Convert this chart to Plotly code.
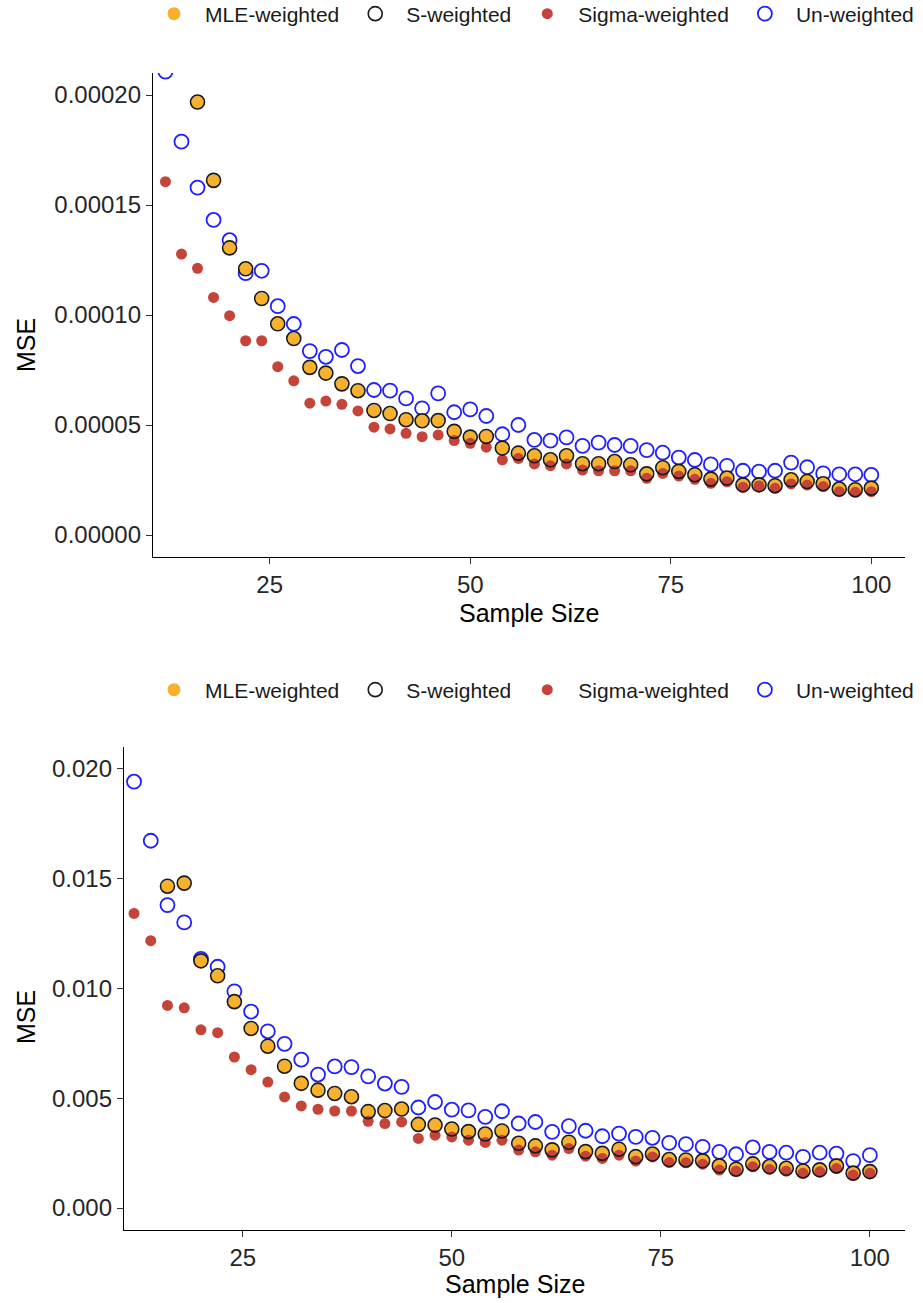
import plotly.graph_objects as go

# ---------------- data ----------------
sample_size = list(range(12, 101, 2))

# Panel 1 (MSE, top)
top_mle = [None, None, 1.967e-4, 1.610e-4, 1.303e-4, 1.212e-4, 1.073e-4, 9.62e-5, 8.91e-5, 7.60e-5,
           7.35e-5, 6.85e-5, 6.55e-5, 5.65e-5, 5.50e-5, 5.23e-5, 5.18e-5, 5.18e-5, 4.70e-5, 4.44e-5,
           4.47e-5, 3.94e-5, 3.71e-5, 3.59e-5, 3.41e-5, 3.59e-5, 3.23e-5, 3.23e-5, 3.33e-5, 3.18e-5,
           2.77e-5, 3.05e-5, 2.88e-5, 2.73e-5, 2.53e-5, 2.58e-5, 2.27e-5, 2.27e-5, 2.23e-5, 2.50e-5,
           2.42e-5, 2.32e-5, 2.08e-5, 2.05e-5, 2.12e-5]
top_s = [None, None, 1.968e-4, 1.612e-4, 1.305e-4, 1.210e-4, 1.075e-4, 9.60e-5, 8.93e-5, 7.62e-5,
         7.36e-5, 6.87e-5, 6.56e-5, 5.66e-5, 5.52e-5, 5.24e-5, 5.19e-5, 5.20e-5, 4.71e-5, 4.45e-5,
         4.48e-5, 3.95e-5, 3.72e-5, 3.60e-5, 3.42e-5, 3.60e-5, 3.24e-5, 3.24e-5, 3.34e-5, 3.19e-5,
         2.78e-5, 3.06e-5, 2.89e-5, 2.74e-5, 2.54e-5, 2.59e-5, 2.28e-5, 2.28e-5, 2.24e-5, 2.51e-5,
         2.43e-5, 2.33e-5, 2.09e-5, 2.06e-5, 2.13e-5]
top_sigma = [1.606e-4, 1.277e-4, 1.212e-4, 1.080e-4, 9.97e-5, 8.83e-5, 8.83e-5, 7.65e-5, 7.01e-5, 5.99e-5,
             6.09e-5, 5.94e-5, 5.64e-5, 4.90e-5, 4.82e-5, 4.62e-5, 4.47e-5, 4.55e-5, 4.29e-5, 4.17e-5,
             3.99e-5, 3.41e-5, 3.48e-5, 3.23e-5, 3.15e-5, 3.23e-5, 2.95e-5, 2.92e-5, 2.92e-5, 2.92e-5,
             2.58e-5, 2.80e-5, 2.68e-5, 2.53e-5, 2.35e-5, 2.42e-5, 2.17e-5, 2.23e-5, 2.12e-5, 2.32e-5,
             2.27e-5, 2.20e-5, 1.97e-5, 1.94e-5, 1.97e-5]
top_un = [2.106e-4, 1.788e-4, 1.579e-4, 1.432e-4, 1.340e-4, 1.190e-4, 1.201e-4, 1.040e-4, 9.59e-5, 8.36e-5,
          8.10e-5, 8.41e-5, 7.68e-5, 6.59e-5, 6.56e-5, 6.21e-5, 5.76e-5, 6.44e-5, 5.58e-5, 5.71e-5,
          5.41e-5, 4.58e-5, 5.00e-5, 4.32e-5, 4.29e-5, 4.44e-5, 4.05e-5, 4.20e-5, 4.09e-5, 4.05e-5,
          3.86e-5, 3.74e-5, 3.52e-5, 3.41e-5, 3.21e-5, 3.14e-5, 2.92e-5, 2.88e-5, 2.92e-5, 3.29e-5,
          3.08e-5, 2.80e-5, 2.76e-5, 2.76e-5, 2.73e-5]

# Panel 2 (MSE, bottom)
bot_mle = [None, None, 0.01465, 0.01479, 0.01124, 0.01056, 0.00938, 0.00817, 0.00736, 0.00645,
           0.00567, 0.00536, 0.00521, 0.00506, 0.00438, 0.00443, 0.00450, 0.00380, 0.00377, 0.00359,
           0.00347, 0.00336, 0.00350, 0.00294, 0.00282, 0.00264, 0.00299, 0.00256, 0.00248, 0.00267,
           0.00233, 0.00245, 0.00220, 0.00218, 0.00214, 0.00191, 0.00176, 0.00200, 0.00188, 0.00180,
           0.00168, 0.00173, 0.00191, 0.00158, 0.00165]
bot_s = [None, None, 0.01466, 0.01480, 0.01126, 0.01058, 0.00940, 0.00818, 0.00737, 0.00646,
         0.00568, 0.00537, 0.00522, 0.00507, 0.00439, 0.00444, 0.00451, 0.00381, 0.00378, 0.00360,
         0.00348, 0.00337, 0.00351, 0.00295, 0.00283, 0.00265, 0.00300, 0.00257, 0.00249, 0.00268,
         0.00234, 0.00246, 0.00221, 0.00219, 0.00215, 0.00192, 0.00177, 0.00201, 0.00189, 0.00181,
         0.00169, 0.00174, 0.00192, 0.00159, 0.00166]
bot_sigma = [0.01342, 0.01218, 0.00923, 0.00912, 0.00812, 0.00799, 0.00688, 0.00630, 0.00574, 0.00506,
             0.00465, 0.00450, 0.00442, 0.00442, 0.00395, 0.00385, 0.00392, 0.00317, 0.00332, 0.00324,
             0.00309, 0.00299, 0.00309, 0.00264, 0.00256, 0.00241, 0.00271, 0.00236, 0.00226, 0.00241,
             0.00214, 0.00233, 0.00207, 0.00206, 0.00200, 0.00173, 0.00168, 0.00188, 0.00176, 0.00168,
             0.00158, 0.00165, 0.00180, 0.00150, 0.00158]
bot_un = [0.01942, 0.01673, 0.01380, 0.01301, 0.01135, 0.01099, 0.00987, 0.00895, 0.00805, 0.00748,
          0.00676, 0.00608, 0.00645, 0.00642, 0.00600, 0.00567, 0.00552, 0.00458, 0.00483, 0.00448,
          0.00445, 0.00415, 0.00441, 0.00385, 0.00392, 0.00347, 0.00373, 0.00352, 0.00327, 0.00339,
          0.00324, 0.00320, 0.00297, 0.00291, 0.00279, 0.00256, 0.00245, 0.00276, 0.00256, 0.00252,
          0.00233, 0.00252, 0.00248, 0.00214, 0.00241]

top_ticks = [0.0, 0.00005, 0.00010, 0.00015, 0.00020]
top_tick_text = ["0.00000", "0.00005", "0.00010", "0.00015", "0.00020"]
bot_ticks = [0.0, 0.005, 0.010, 0.015, 0.020]
bot_tick_text = ["0.000", "0.005", "0.010", "0.015", "0.020"]
x_ticks = [25, 50, 75, 100]

# ---------------- styles ----------------
W, H = 923, 1303
FONT = "Liberation Sans, Arial, Helvetica, sans-serif"
ORANGE = "#F8B12C"
RED = "#C4443A"
BLUE = "#2020FF"
BLACK = "#1a1a1a"

series = [
    # (name, legend rank, marker style)
    ("Un-weighted", 4, dict(symbol="circle-open", size=14, color=BLUE, line=dict(color=BLUE, width=1.8))),
    ("MLE-weighted", 1, dict(symbol="circle", size=13, color=ORANGE, line=dict(width=0))),
    ("Sigma-weighted", 3, dict(symbol="circle", size=11, color=RED, line=dict(width=0))),
    ("S-weighted", 2, dict(symbol="circle-open", size=14, color=BLACK, line=dict(color=BLACK, width=1.6))),
]

fig = go.Figure()

panels = [
    ("x", "y", "legend", {"Un-weighted": top_un, "MLE-weighted": top_mle,
                          "Sigma-weighted": top_sigma, "S-weighted": top_s}),
    ("x2", "y2", "legend2", {"Un-weighted": bot_un, "MLE-weighted": bot_mle,
                             "Sigma-weighted": bot_sigma, "S-weighted": bot_s}),
]
for xa, ya, lg, data in panels:
    for name, rank, mk in series:
        fig.add_trace(go.Scatter(
            x=sample_size, y=data[name], mode="markers", name=name,
            marker=mk, xaxis=xa, yaxis=ya, legend=lg, legendrank=rank,
            cliponaxis=True,
        ))

axis_common = dict(
    showline=True, linecolor="#000000", linewidth=1.3,
    ticks="outside", ticklen=6, tickwidth=1.3, tickcolor="#333333",
    showgrid=False, zeroline=False,
    tickfont=dict(family=FONT, size=24, color="#262626"),
)

def px_x(p):
    return p / W

def px_y(p):
    return 1 - p / H

legend_common = dict(orientation="h", xanchor="left", yanchor="middle",
                     font=dict(family=FONT, size=21, color="#1a1a1a"), itemwidth=52,
                     bgcolor="rgba(0,0,0,0)", itemclick=False)

fig.update_layout(
    width=W, height=H,
    margin=dict(l=0, r=0, t=0, b=0, autoexpand=False),
    paper_bgcolor="white", plot_bgcolor="white",
    font=dict(family=FONT, color="#000000"),
    showlegend=True,
    xaxis=dict(domain=[px_x(153), px_x(905)], range=[10.45, 104.2], tickvals=x_ticks,
               anchor="y", **axis_common),
    yaxis=dict(domain=[px_y(557), px_y(73)], range=[-0.00001, 0.00021],
               tickvals=top_ticks, ticktext=top_tick_text, anchor="x", **axis_common),
    xaxis2=dict(domain=[px_x(124), px_x(905)], range=[10.8, 104.2], tickvals=x_ticks,
                anchor="y2", **axis_common),
    yaxis2=dict(domain=[px_y(1230), px_y(747)], range=[-0.001, 0.021],
                tickvals=bot_ticks, ticktext=bot_tick_text, anchor="x2", **axis_common),
    legend=dict(x=px_x(143), y=px_y(14), **legend_common),
    legend2=dict(x=px_x(143), y=px_y(690), **legend_common),
)

title_font = dict(family=FONT, size=25, color="#000000")
annos = [
    dict(text="Sample Size", x=px_x(529), y=px_y(613), xref="paper", yref="paper",
         showarrow=False, font=title_font, xanchor="center", yanchor="middle"),
    dict(text="Sample Size", x=px_x(515), y=px_y(1284), xref="paper", yref="paper",
         showarrow=False, font=title_font, xanchor="center", yanchor="middle"),
    dict(text="MSE", x=px_x(26), y=px_y(345), xref="paper", yref="paper", textangle=-90,
         showarrow=False, font=title_font, xanchor="center", yanchor="middle"),
    dict(text="MSE", x=px_x(26), y=px_y(1017), xref="paper", yref="paper", textangle=-90,
         showarrow=False, font=title_font, xanchor="center", yanchor="middle"),
]
fig.update_layout(annotations=annos)

fig.write_html("out.html")
